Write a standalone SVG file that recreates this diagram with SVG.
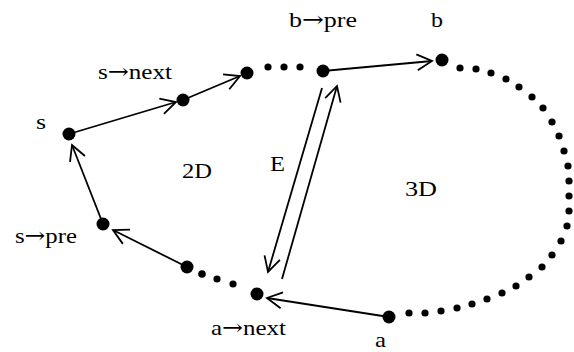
<svg xmlns="http://www.w3.org/2000/svg" width="574" height="352" viewBox="0 0 574 352">
<style>
.lbl{font-family:"Liberation Serif","Times New Roman",serif;font-size:22px;fill:#000}
.ar{font-family:"DejaVu Serif","Liberation Serif",serif}
.node{fill:#000}
.dot{fill:#000}
.edge{stroke:#000;stroke-width:1.8;fill:none;marker-end:url(#arr)}
</style>
<defs>
<marker id="arr" markerUnits="userSpaceOnUse" markerWidth="20" markerHeight="20" viewBox="-16 -10 18 20" refX="0" refY="0" orient="auto">
<path d="M-15,-8 L0,0 L-15,8" fill="none" stroke="#000" stroke-width="1.8"/>
</marker>
</defs>
<rect width="574" height="352" fill="#fff"/>
<g id="connectors">
<line class="edge" x1="69" y1="134" x2="176" y2="102"/>
<line class="edge" x1="183" y1="100" x2="240" y2="76"/>
<line class="edge" x1="323" y1="71" x2="432" y2="61"/>
<line class="edge" x1="322" y1="88" x2="268" y2="272"/>
<line class="edge" x1="282" y1="279" x2="337" y2="86"/>
<line class="edge" x1="389" y1="317" x2="267" y2="298"/>
<line class="edge" x1="187" y1="267" x2="113" y2="230"/>
<line class="edge" x1="103" y1="224" x2="72" y2="145"/>
</g>
<g id="dots">
<circle class="dot" cx="268" cy="67" r="3.6"/>
<circle class="dot" cx="284" cy="67" r="3.6"/>
<circle class="dot" cx="300" cy="67" r="3.6"/>
<circle class="dot" cx="202" cy="274" r="3.8"/>
<circle class="dot" cx="217" cy="279" r="3.6"/>
<circle class="dot" cx="233" cy="284" r="3.6"/>
<circle class="dot" cx="460" cy="68" r="3.6"/>
<circle class="dot" cx="476" cy="69" r="3.6"/>
<circle class="dot" cx="491" cy="73" r="3.6"/>
<circle class="dot" cx="506" cy="79" r="3.6"/>
<circle class="dot" cx="519" cy="87" r="3.6"/>
<circle class="dot" cx="532" cy="97" r="3.6"/>
<circle class="dot" cx="543" cy="108" r="3.6"/>
<circle class="dot" cx="552" cy="122" r="3.6"/>
<circle class="dot" cx="559" cy="136" r="3.6"/>
<circle class="dot" cx="564" cy="151" r="3.6"/>
<circle class="dot" cx="568" cy="166" r="3.6"/>
<circle class="dot" cx="569" cy="181" r="3.6"/>
<circle class="dot" cx="569" cy="196" r="3.6"/>
<circle class="dot" cx="569" cy="211" r="3.6"/>
<circle class="dot" cx="567" cy="226" r="3.6"/>
<circle class="dot" cx="561" cy="241" r="3.6"/>
<circle class="dot" cx="552" cy="255" r="3.6"/>
<circle class="dot" cx="542" cy="267" r="3.6"/>
<circle class="dot" cx="529" cy="277" r="3.6"/>
<circle class="dot" cx="516" cy="286" r="3.6"/>
<circle class="dot" cx="502" cy="293" r="3.6"/>
<circle class="dot" cx="487" cy="299" r="3.6"/>
<circle class="dot" cx="472" cy="304" r="3.6"/>
<circle class="dot" cx="457" cy="308" r="3.6"/>
<circle class="dot" cx="441" cy="311" r="3.6"/>
<circle class="dot" cx="425" cy="313" r="3.6"/>
<circle class="dot" cx="409" cy="313" r="3.6"/>
</g>
<g id="node-s"><circle class="node" cx="69" cy="134" r="6.5"/><text class="lbl" x="36" y="129" textLength="10" lengthAdjust="spacingAndGlyphs">s</text></g>
<g id="node-snext"><circle class="node" cx="183" cy="100" r="6.5"/><text class="lbl" x="98" y="79" textLength="74" lengthAdjust="spacingAndGlyphs">s<tspan class="ar">→</tspan>next</text></g>
<g id="node-n3"><circle class="node" cx="247" cy="73" r="6.5"/></g>
<g id="node-bpre"><circle class="node" cx="323" cy="71" r="6.5"/><text class="lbl" x="289" y="27" textLength="68" lengthAdjust="spacingAndGlyphs">b<tspan class="ar">→</tspan>pre</text></g>
<g id="node-b"><circle class="node" cx="442" cy="60" r="6.5"/><text class="lbl" x="431" y="27" textLength="12" lengthAdjust="spacingAndGlyphs">b</text></g>
<g id="node-a"><circle class="node" cx="389" cy="317" r="6.5"/><text class="lbl" x="375" y="347" textLength="11" lengthAdjust="spacingAndGlyphs">a</text></g>
<g id="node-anext"><circle class="node" cx="257" cy="294" r="6.5"/><text class="lbl" x="211" y="335" textLength="75" lengthAdjust="spacingAndGlyphs">a<tspan class="ar">→</tspan>next</text></g>
<g id="node-n7"><circle class="node" cx="187" cy="267" r="6.5"/></g>
<g id="node-spre"><circle class="node" cx="103" cy="224" r="6.5"/><text class="lbl" x="15" y="243" textLength="62" lengthAdjust="spacingAndGlyphs">s<tspan class="ar">→</tspan>pre</text></g>
<g id="regions">
<text class="lbl" x="182" y="178" textLength="30" lengthAdjust="spacingAndGlyphs">2D</text>
<text class="lbl" x="270" y="171" textLength="15" lengthAdjust="spacingAndGlyphs">E</text>
<text class="lbl" x="405" y="196" textLength="32" lengthAdjust="spacingAndGlyphs">3D</text>
</g>
</svg>
